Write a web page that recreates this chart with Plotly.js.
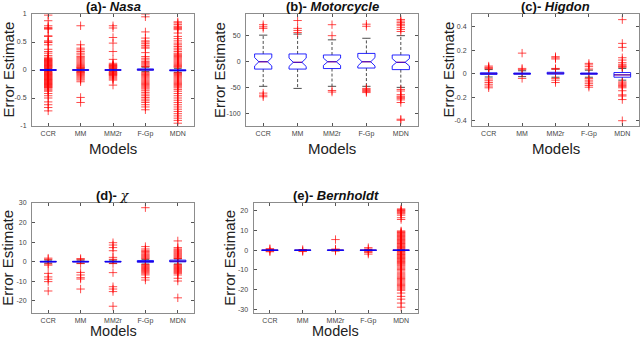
<!DOCTYPE html>
<html><head><meta charset="utf-8">
<script src="https://cdn.plot.ly/plotly-3.0.1.min.js"></script>
<style>html,body{margin:0;padding:0;background:#fff}#chart{width:640px;height:340px}</style>
</head><body><div id="chart"></div>
<script>
// ---------- data ----------
const categories = ['CCR', 'MM', 'MM2r', 'F-Gp', 'MDN'];
const positions = [1, 2, 3, 4, 5];

// (a) Nasa
const nasaLo  = [-0.02, -0.02, -0.02, -0.03, -0.04];
const nasaQ1  = [-0.008, -0.006, -0.006, -0.005, -0.015];
const nasaMed = [0, 0, 0, 0.005, -0.008];
const nasaQ3  = [0.008, 0.006, 0.006, 0.02, 0.005];
const nasaHi  = [0.02, 0.02, 0.02, 0.05, 0.03];
const nasaOutliers = [
  [0.98,0.88,0.79,0.76,0.74,0.73,0.61,0.6,0.52,0.5,0.49,0.45,0.37,0.33,0.3,0.26,0.23,0.21,0.2,0.19,0.18,0.17,0.16,0.15,0.14,0.13,0.12,0.11,0.1,0.09,0.08,0.07,0.06,0.05,0.04,0.03,-0.03,-0.04,-0.05,-0.06,-0.07,-0.08,-0.09,-0.1,-0.11,-0.12,-0.13,-0.14,-0.15,-0.16,-0.17,-0.18,-0.19,-0.2,-0.21,-0.22,-0.23,-0.24,-0.25,-0.26,-0.27,-0.28,-0.29,-0.3,-0.31,-0.32,-0.34,-0.36,-0.38,-0.42,-0.46,-0.5,-0.57,-0.62,-0.67,-0.73],
  [0.79,0.45,0.39,0.36,0.33,0.3,0.27,0.24,0.22,0.2,0.18,0.16,0.14,0.12,0.1,0.08,0.06,0.05,0.04,0.03,-0.03,-0.04,-0.05,-0.06,-0.08,-0.1,-0.12,-0.14,-0.16,-0.18,-0.21,-0.49,-0.58],
  [0.79,0.75,0.58,0.48,0.33,0.19,0.12,0.1,0.09,0.08,0.07,0.06,0.05,0.04,0.03,-0.03,-0.04,-0.05,-0.06,-0.07,-0.08,-0.09,-0.1,-0.12,-0.14,-0.16,-0.18,-0.27],
  [1.0,0.95,0.68,0.57,0.52,0.5,0.47,0.44,0.41,0.39,0.31,0.24,0.21,0.18,0.15,0.13,0.11,0.09,0.07,0.06,-0.04,-0.06,-0.08,-0.1,-0.12,-0.14,-0.16,-0.18,-0.2,-0.22,-0.24,-0.26,-0.28,-0.3,-0.32,-0.34,-0.37,-0.4,-0.43,-0.46,-0.49,-0.52,-0.55,-0.58,-0.62,-0.66,-0.71],
  [0.86,0.84,0.81,0.78,0.76,0.74,0.72,0.66,0.6,0.56,0.52,0.48,0.45,0.42,0.39,0.36,0.33,0.3,0.28,0.26,0.24,0.22,0.2,0.18,0.16,0.14,0.12,0.1,0.08,0.06,0.05,-0.05,-0.06,-0.08,-0.1,-0.12,-0.14,-0.16,-0.18,-0.2,-0.22,-0.24,-0.26,-0.28,-0.3,-0.32,-0.35,-0.38,-0.42,-0.46,-0.5,-0.54,-0.58,-0.62,-0.66,-0.7,-0.74,-0.78,-0.82,-0.86,-0.9,-0.95]
];
const nasaTicks = [-1, -0.5, 0, 0.5, 1];
const nasaTickText = ['-1', '-0.5', '0', '0.5', '1'];

// (b) Motorcycle
const motoLo  = [-47, -51, -47, -47, -49];
const motoQ1  = [-14, -14, -13, -12, -15];
const motoMed = [0, -1, 0, 0, -1];
const motoQ3  = [15, 15, 13, 16, 13];
const motoHi  = [51, 53, 42, 45, 50];
const motoNotch = [8, 8, 7, 8, 7];
const motoOutliers = [
  [71, 67, 64, -60, -64, -67],
  [79, 64, 60, 56],
  [71, 50, -55, -58],
  [72, 68, -51, -53, -55, -57, -59],
  [81, 78, 75, 72, 70, 66, 62, 58, -53, -56, -63, -66, -68, -70, -73, -78, -110, -112]
];
const motoTicks = [-100, -50, 0, 50];
const motoTickText = ['-100', '-50', '0', '50'];

// (c) Higdon
const higLo  = [-0.028, -0.025, -0.03, -0.03, -0.055];
const higQ1  = [-0.006, -0.005, -0.004, -0.005, -0.03];
const higMed = [0, 0, 0.004, 0, -0.01];
const higQ3  = [0.008, 0.006, 0.012, 0.006, 0.01];
const higHi  = [0.035, 0.025, 0.04, 0.03, 0.045];
const higOutliers = [
  [0.065, 0.055, 0.048, 0.042, -0.045, -0.06, -0.075, -0.09, -0.105, -0.12],
  [0.175, 0.045, 0.035, -0.04],
  [0.145, 0.135, 0.125, 0.045, 0.038, -0.04, -0.055, -0.075],
  [0.088, 0.075, 0.06, 0.04, -0.04, -0.055, -0.07, -0.085, -0.1, -0.115],
  [0.46, 0.258, 0.224, 0.136, 0.116, 0.094, 0.08, 0.068, 0.06, 0.055, -0.07, -0.08, -0.09, -0.1, -0.11, -0.12, -0.145, -0.18, -0.19, -0.22, -0.4]
];
const higTicks = [-0.4, -0.2, 0, 0.2, 0.4];
const higTickText = ['-0.4', '-0.2', '0', '0.2', '0.4'];

// (d) chi
const chiLo  = [-0.8, -0.8, -0.8, -1.2, -1.2];
const chiQ1  = [-0.2, -0.2, -0.2, -0.3, -0.1];
const chiMed = [0, 0, 0, 0, 0.2];
const chiQ3  = [0.2, 0.2, 0.2, 0.6, 0.8];
const chiHi  = [0.8, 0.8, 0.8, 1.2, 1.4];
const chiOutliers = [
  [1.8, 1.2, -1.2, -1.8, -6, -7.8, -9, -10.2, -15],
  [1.6, 1.0, -1.0, -5.5, -6.8, -8.2, -8.9, -14],
  [9.7, 8.5, 7.2, 5.6, 2.2, 1.2, -1.0, -5.6, -12.8, -14, -15.3, -22.8],
  [27.6, 7.7, 6.5, 5.8, 5.2, 4.6, 4.0, 3.5, 3.0, 2.5, 2.0, 1.5, -1.5, -2.0, -2.5, -3.0, -3.5, -4.0, -4.5, -5.0, -5.6, -6.2, -6.8, -8.2, -9.4],
  [10.6, 7.2, 6.5, 6.0, 5.5, 5.0, 4.5, 4.0, 3.5, 3.0, 2.5, 2.0, 1.6, -1.5, -2.0, -2.5, -3.0, -3.5, -4.0, -4.5, -5.0, -5.5, -6.0, -6.8, -8.5, -9.9, -18.5]
];
const chiTicks = [-20, -10, 0, 10, 20, 30];
const chiTickText = ['-20', '-10', '0', '10', '20', '30'];

// (e) Bernholdt
const berLo  = [-0.3, -0.3, -0.3, -0.3, -0.3];
const berQ1  = [-0.1, -0.1, -0.1, -0.1, -0.1];
const berMed = [0, 0, 0, 0, 0];
const berQ3  = [0.1, 0.1, 0.1, 0.1, 0.1];
const berHi  = [0.3, 0.3, 0.3, 0.3, 0.3];
const berOutliers = [
  [0.8, 0.4, -0.4, -0.8],
  [0.3, -0.3, -0.7],
  [5.4, 0.6, 0.3, -0.4],
  [1.3, 0.6, -0.6, -1.2, -2.0],
  [21.0, 20.6, 20.2, 19.8, 19.4, 19.0, 18.5, 17.8, 16.5, 15.6,
   9.8, 9.4, 9.0, 8.6, 8.2, 7.8, 7.4, 7.0, 6.6, 6.2, 5.8, 5.4, 5.0, 4.6, 4.2, 3.8, 3.4, 3.0, 2.6, 2.2, 1.8, 1.4, 1.0, 0.6,
   -0.6, -1.0, -1.4, -1.8, -2.2, -2.6, -3.0, -3.4, -3.8, -4.2, -4.6, -5.0, -5.4, -5.8, -6.2, -6.6, -7.0, -7.5, -8.0, -8.6, -9.2, -9.8,
   -10.5, -11.2, -12.0, -12.6, -13.2, -13.8, -14.4, -15.0, -15.6, -16.2, -16.8, -17.4, -18.0, -18.6, -19.2, -19.8, -20.4,
   -21.8, -23.5, -24.9, -26.9, -29.0]
];
const berTicks = [-30, -20, -10, 0, 10, 20];
const berTickText = ['-30', '-20', '-10', '0', '10', '20'];

// ---------- layout helpers ----------
const W = 640, H = 340;
const FONT = 'Liberation Sans, Arial, sans-serif';
const panels = [
  {lo: nasaLo, q1: nasaQ1, med: nasaMed, q3: nasaQ3, hi: nasaHi, out: nasaOutliers, notch: null,
   range: [-1, 1], tv: nasaTicks, tt: nasaTickText, title: '<b>(a)- <i>Nasa</i></b>',
   px: [32, 194, 14, 126], ylabX: 8.5, xlabY: 148.5},
  {lo: motoLo, q1: motoQ1, med: motoMed, q3: motoQ3, hi: motoHi, out: motoOutliers, notch: motoNotch,
   range: [-123, 91.5], tv: motoTicks, tt: motoTickText, title: '<b>(b)- <i>Motorcycle</i></b>',
   px: [246, 418, 14, 126], ylabX: 220, xlabY: 148.5},
  {lo: higLo, q1: higQ1, med: higMed, q3: higQ3, hi: higHi, out: higOutliers, notch: null,
   range: [-0.445, 0.508], tv: higTicks, tt: higTickText, title: '<b>(c)- <i>Higdon</i></b>',
   px: [472, 639, 14, 126], ylabX: 448.5, xlabY: 148.5},
  {lo: chiLo, q1: chiQ1, med: chiMed, q3: chiQ3, hi: chiHi, out: chiOutliers, notch: null,
   range: [-26, 30], tv: chiTicks, tt: chiTickText,
   title: '<b>(d)- </b><span style="font-family:DejaVu Serif;font-style:italic">χ</span>',
   px: [32, 194, 203, 312.5], ylabX: 8, xlabY: null},
  {lo: berLo, q1: berQ1, med: berMed, q3: berQ3, hi: berHi, out: berOutliers, notch: null,
   range: [-31.7, 24], tv: berTicks, tt: berTickText, title: '<b>(e)- <i>Bernholdt</i></b>',
   px: [253.5, 417.5, 203, 312.5], ylabX: 230, xlabY: null}
];

const data = [];
const layout = {
  width: W, height: H,
  margin: {l: 0, r: 0, t: 0, b: 0},
  paper_bgcolor: '#fff', plot_bgcolor: '#fff',
  showlegend: false,
  font: {family: FONT, color: '#333'},
  annotations: []
};

const capHalf = 0.12;

panels.forEach((p, i) => {
  const k = i + 1, ko = i + 6;
  const xs = k === 1 ? 'x' : 'x' + k, ys = k === 1 ? 'y' : 'y' + k;
  const xo = 'x' + ko, yo = 'y' + ko;
  const xd = [p.px[0] / W, p.px[1] / W];
  const yd = [1 - p.px[3] / H, 1 - p.px[2] / H];
  const axCommon = {
    showline: true, linecolor: '#8c8c8c', linewidth: 1, mirror: 'allticks',
    ticks: 'inside', ticklen: 3, tickwidth: 1, tickcolor: '#555',
    showgrid: false, zeroline: false, fixedrange: true,
    tickfont: {family: FONT, size: 7, color: '#444'}
  };
  layout['xaxis' + (k === 1 ? '' : k)] = Object.assign({}, axCommon, {
    domain: xd, anchor: ys, range: [0.5, 5.5], tickmode: 'array',
    tickvals: positions, ticktext: categories, ticklabelstandoff: 1
  });
  layout['yaxis' + (k === 1 ? '' : k)] = Object.assign({}, axCommon, {
    domain: yd, anchor: xs, range: p.range, tickmode: 'array',
    tickvals: p.tv, ticktext: p.tt, ticklabelstandoff: 3
  });
  layout['xaxis' + ko] = {overlaying: xs, range: [0.5, 5.5], visible: false, fixedrange: true};
  layout['yaxis' + ko] = {overlaying: ys, range: p.range, visible: false, fixedrange: true};

  const wx = [], wy = [], cx = [], cy = [], mx = [], my = [];
  const mHalf = p.notch ? 0.13 : 0.25;
  positions.forEach((x, j) => {
    wx.push(x, x, null, x, x, null);
    wy.push(p.q3[j], p.hi[j], null, p.q1[j], p.lo[j], null);
    cx.push(x - capHalf, x + capHalf, null, x - capHalf, x + capHalf, null);
    cy.push(p.hi[j], p.hi[j], null, p.lo[j], p.lo[j], null);
    mx.push(x - mHalf, x + mHalf, null);
    my.push(p.med[j], p.med[j], null);
  });
  data.push({type: 'scatter', mode: 'lines', x: wx, y: wy, xaxis: xs, yaxis: ys,
    line: {color: '#222', width: 0.8, dash: '3px,2px'}, hoverinfo: 'skip'});
  data.push({type: 'scatter', mode: 'lines', x: cx, y: cy, xaxis: xs, yaxis: ys,
    line: {color: '#222', width: 0.8}, hoverinfo: 'skip'});
  data.push({type: 'scatter', mode: 'lines', x: mx, y: my, xaxis: xs, yaxis: ys,
    line: {color: '#ff0000', width: 1}, hoverinfo: 'skip'});
  const ox = [], oy = [];
  p.out.forEach((arr, j) => arr.forEach(v => { ox.push(positions[j]); oy.push(v); }));
  data.push({type: 'scatter', mode: 'markers', x: ox, y: oy, xaxis: xs, yaxis: ys,
    marker: {symbol: 'cross-thin-open', size: 6, color: 'rgba(255,0,0,0.7)',
             line: {color: 'rgba(255,0,0,0.7)', width: 1}}, hoverinfo: 'skip'});
  const box = {type: 'box', x: positions, q1: p.q1, median: p.med, q3: p.q3,
    lowerfence: p.q1, upperfence: p.q3, width: 0.5, boxpoints: false,
    xaxis: xo, yaxis: yo, line: {color: 'rgba(0,0,255,0.85)', width: 1},
    fillcolor: 'rgba(0,0,0,0)', whiskerwidth: 0, hoverinfo: 'skip'};
  if (p.notch) { box.notched = true; box.notchspan = p.notch; box.notchwidth = 0.25; }
  data.push(box);

  const cxp = (p.px[0] + p.px[1]) / 2 / W;
  layout.annotations.push({text: p.title, xref: 'paper', yref: 'paper', x: cxp,
    y: 1 - (p.px[2] - 7.5) / H, xanchor: 'center', yanchor: 'middle', showarrow: false,
    font: {family: FONT, size: 13, color: '#111'}});
  const modelsAnn = {text: 'Models', xref: 'paper', yref: 'paper', x: cxp,
    xanchor: 'center', showarrow: false, borderpad: 0,
    font: {family: FONT, size: 15, color: '#222'}};
  if (p.xlabY === null) { modelsAnn.y = 0; modelsAnn.yanchor = 'bottom'; modelsAnn.font.size = 14.5; }
  else { modelsAnn.y = 1 - p.xlabY / H; modelsAnn.yanchor = 'middle'; }
  layout.annotations.push(modelsAnn);
  layout.annotations.push({text: 'Error Estimate', xref: 'paper', yref: 'paper',
    x: p.ylabX / W, y: 1 - (p.px[2] + p.px[3]) / 2 / H, textangle: -90,
    xanchor: 'center', yanchor: 'middle', showarrow: false,
    font: {family: FONT, size: 15, color: '#222'}});
});

Plotly.newPlot('chart', data, layout, {staticPlot: true});
</script>
</body></html>
